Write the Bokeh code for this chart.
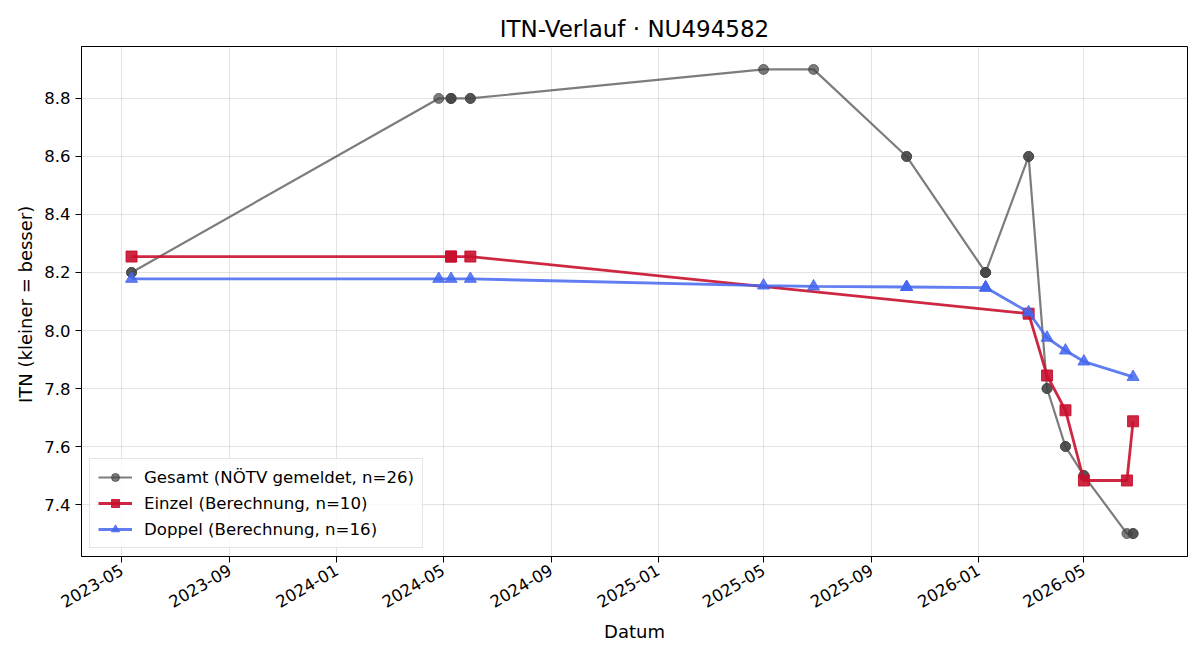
import math
from datetime import datetime
from bokeh.plotting import figure
from bokeh.models import (Range1d, MonthsTicker, DatetimeTickFormatter, Legend, LegendItem,
                          SingleIntervalTicker, PrintfTickFormatter)
from bokeh.embed import file_html
from bokeh.resources import INLINE

FONT = "DejaVu Sans"

# ---- data -------------------------------------------------------------
gesamt_dates = ["2023-05-12", "2023-05-12", "2024-04-26", "2024-05-10", "2024-05-10", "2024-05-10",
                "2024-06-01", "2024-06-01", "2025-05-01", "2025-06-27", "2025-10-11", "2025-10-11",
                "2026-01-09", "2026-01-09", "2026-01-09", "2026-02-27", "2026-02-27", "2026-03-20",
                "2026-03-20", "2026-04-10", "2026-04-10", "2026-05-01", "2026-05-01", "2026-06-19",
                "2026-06-26", "2026-06-26"]
gesamt_itn = [8.2, 8.2, 8.8, 8.8, 8.8, 8.8,
              8.8, 8.8, 8.9, 8.9, 8.6, 8.6,
              8.2, 8.2, 8.2, 8.6, 8.6, 7.8,
              7.8, 7.6, 7.6, 7.5, 7.5, 7.3,
              7.3, 7.3]

einzel_dates = ["2023-05-12", "2024-05-10", "2024-05-10", "2024-06-01", "2026-02-27",
                "2026-03-20", "2026-04-10", "2026-05-01", "2026-06-19", "2026-06-26"]
einzel_itn = [8.255, 8.255, 8.255, 8.255, 8.058,
              7.845, 7.725, 7.483, 7.483, 7.687]

doppel_dates = ["2023-05-12", "2024-04-26", "2024-05-10", "2024-06-01", "2025-05-01",
                "2025-06-27", "2025-10-11", "2025-10-11", "2026-01-09", "2026-01-09",
                "2026-01-09", "2026-02-27", "2026-03-20", "2026-04-10", "2026-05-01",
                "2026-06-26"]
doppel_itn = [8.178, 8.178, 8.178, 8.178, 8.155,
              8.152, 8.150, 8.150, 8.148, 8.148,
              8.148, 8.063, 7.975, 7.931, 7.893,
              7.840]

labels = ["Gesamt (NÖTV gemeldet, n=26)", "Einzel (Berechnung, n=10)", "Doppel (Berechnung, n=16)"]


def to_dt(lst):
    return [datetime.strptime(s, "%Y-%m-%d") for s in lst]


# ---- figure -----------------------------------------------------------
p = figure(width=1200, height=660, x_axis_type="datetime", output_backend="svg",
           toolbar_location=None,
           x_range=Range1d(datetime(2023, 3, 16), datetime(2026, 8, 27)),
           y_range=Range1d(7.221, 8.979),
           min_border_left=81, min_border_right=13, min_border_top=46, min_border_bottom=104)

p.title.text = "ITN-Verlauf · NU494582"
p.title.text_font = FONT
p.title.text_font_size = "23px"
p.title.text_font_style = "normal"
p.title.align = "center"
p.title.text_color = "black"

p.outline_line_color = "black"
p.outline_line_alpha = 1
p.outline_line_width = 1

# Bokeh months are 0-based: 0=Jan, 4=May, 8=Sep
p.xaxis.ticker = MonthsTicker(months=[0, 4, 8])
p.xaxis.formatter = DatetimeTickFormatter(months="%Y-%m", years="%Y-%m", days="%Y-%m")
p.xaxis.major_label_orientation = math.pi / 6
p.yaxis.ticker = SingleIntervalTicker(interval=0.2)
p.yaxis.formatter = PrintfTickFormatter(format="%.1f")

for ax in (p.xaxis, p.yaxis):
    ax.major_label_text_font = FONT
    ax.major_label_text_font_size = "16.5px"
    ax.major_label_text_color = "black"
    ax.axis_label_text_font = FONT
    ax.axis_label_text_font_size = "18px"
    ax.axis_label_text_font_style = "normal"
    ax.axis_label_text_color = "black"
    ax.major_tick_out = 6
    ax.major_tick_in = 0
    ax.minor_tick_out = 0
    ax.minor_tick_in = 0
    ax.axis_line_color = "black"
    ax.major_tick_line_color = "black"

p.xaxis.axis_label = "Datum"
p.xaxis.major_label_standoff = 6
p.yaxis.axis_label = "ITN  (kleiner = besser)"

p.grid.grid_line_color = "#b0b0b0"
p.grid.grid_line_alpha = 0.35
p.grid.grid_line_width = 1

# ---- series -----------------------------------------------------------
gx = to_dt(gesamt_dates)
ex = to_dt(einzel_dates)
dx = to_dt(doppel_dates)

g_color = "#444444"
e_color = "#c8102e"
d_color = "#4466ee"

gl = p.line(gx, gesamt_itn, line_color=g_color, line_alpha=0.7, line_width=2.2)
gs = p.scatter(gx, gesamt_itn, marker="circle", size=10, fill_color=g_color, fill_alpha=0.7,
               line_color=g_color, line_alpha=0.7)

el = p.line(ex, einzel_itn, line_color=e_color, line_alpha=0.9, line_width=2.8)
es = p.scatter(ex, einzel_itn, marker="square", size=11, fill_color=e_color, fill_alpha=0.9,
               line_color=e_color, line_alpha=0.9)

dl = p.line(dx, doppel_itn, line_color=d_color, line_alpha=0.85, line_width=2.8)
ds = p.scatter(dx, doppel_itn, marker="triangle", size=12, fill_color=d_color, fill_alpha=0.85,
               line_color=d_color, line_alpha=0.85)

legend = Legend(items=[LegendItem(label=labels[0], renderers=[gl, gs]),
                       LegendItem(label=labels[1], renderers=[el, es]),
                       LegendItem(label=labels[2], renderers=[dl, ds])],
                location="bottom_left", margin=8, padding=8, spacing=6,
                glyph_width=34, glyph_height=20, label_standoff=12,
                label_text_font=FONT, label_text_font_size="16.6px", label_text_color="black",
                border_line_color="#cccccc", border_line_width=1,
                background_fill_alpha=0.8)
p.add_layout(legend)

open("out.html", "w").write(file_html(p, INLINE))
